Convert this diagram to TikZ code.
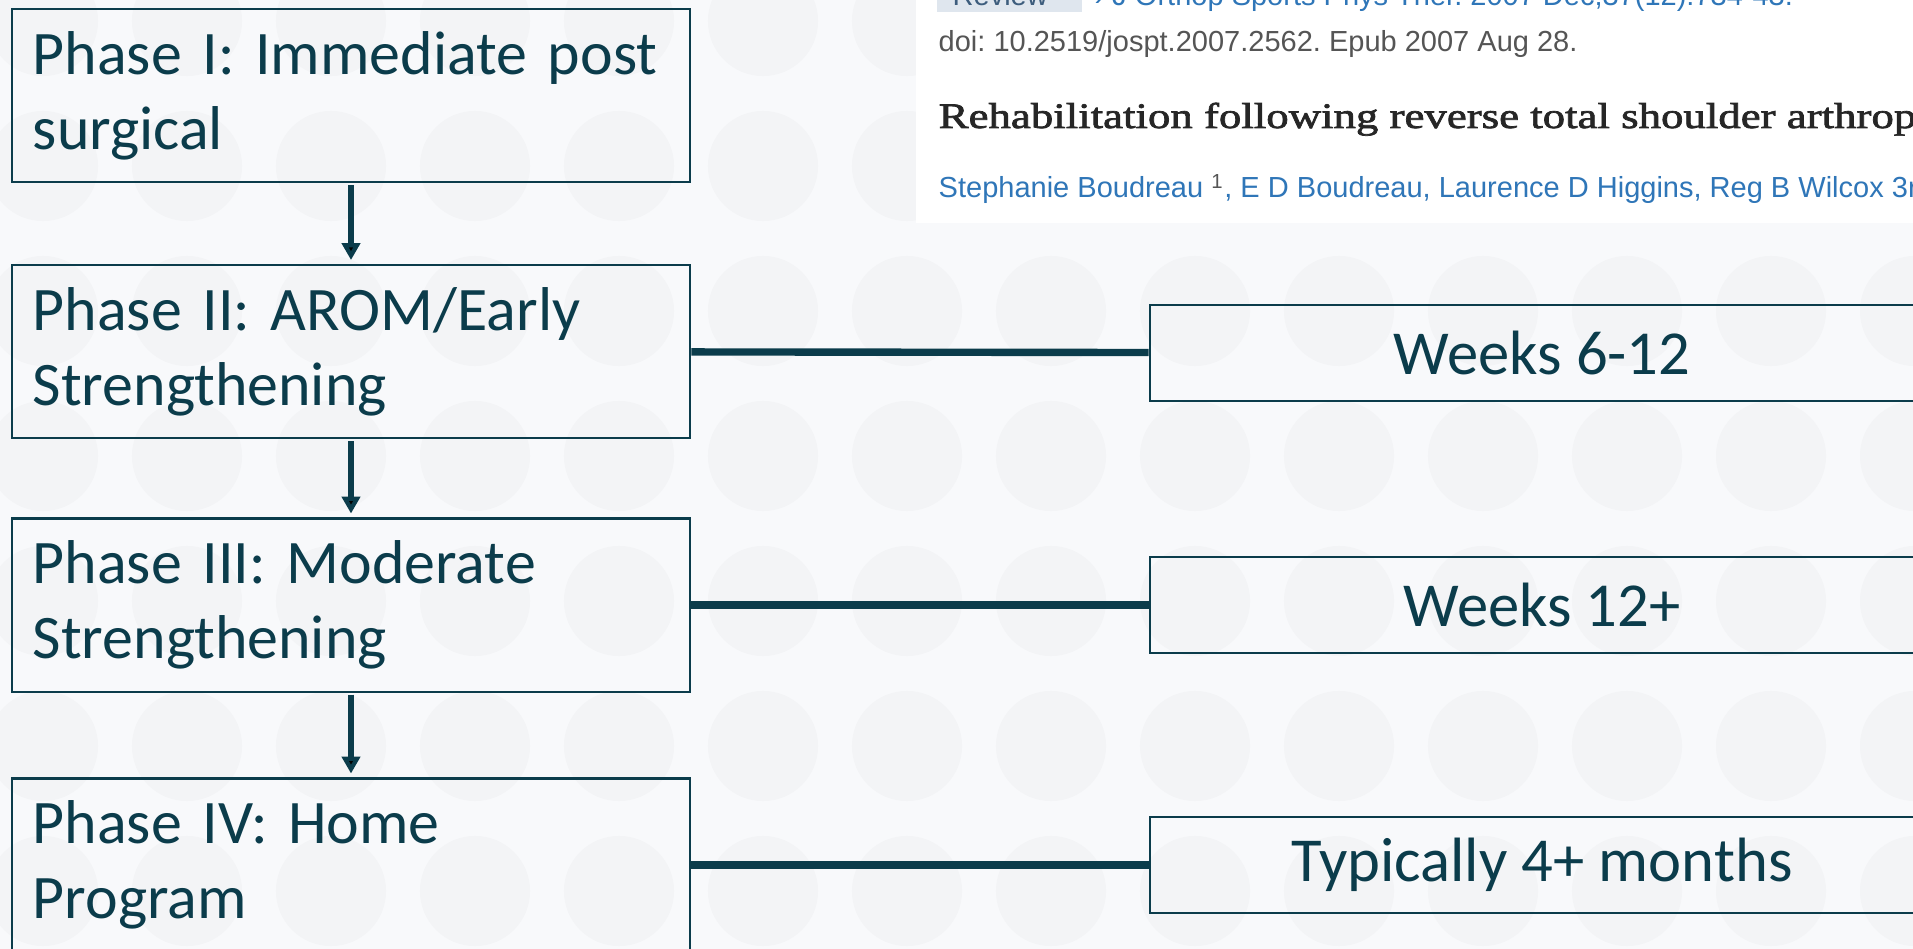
\documentclass[tikz,border=0pt]{standalone}
\usepackage{fontspec}
\setmainfont{Carlito}
\newfontfamily\citefont{Liberation Sans}
\newfontfamily\titlefont[FakeStretch=1.25,FakeBold=2]{Liberation Serif}
\usepackage{xcolor}
\usepackage{tikz}
\usetikzlibrary{
	arrows.meta
}
\frenchspacing

\definecolor{phaseteal}{HTML}{0B3C4B}
\definecolor{pagebg}{HTML}{F8F9FB}
\definecolor{dotgray}{HTML}{F3F4F6}
\definecolor{linkblue}{HTML}{2F76B8}
\definecolor{doigray}{HTML}{555555}
\definecolor{tagfill}{HTML}{DFE6EE}
\definecolor{tagtext}{HTML}{3D5D7D}

\tikzset{
	phasebox/.style={draw=phaseteal, line width=0.6pt, text=phaseteal,
		minimum height=1.73cm, inner xsep=0.21cm, text width=6.36cm, align=left,
		font=\fontsize{17.6}{21.3}\selectfont},
	timebox/.style={draw=phaseteal, line width=0.6pt, text=phaseteal,
		minimum width=7.84cm, minimum height=0.96cm,
		font=\fontsize{17.8}{21.3}\selectfont},
	citetext/.style={inner sep=0pt, anchor=base west,
		font=\citefont\fontsize{8.25}{10}\selectfont}
}

\begin{document}
\begin{tikzpicture}[x=0.01cm, y=-0.01cm]
		\useasboundingbox (0,0) rectangle (1913,949);
		\clip (0,0) rectangle (1913,949);
		% background
		\fill[pagebg] (0,0) rectangle (1913,949);
		\foreach \i in {0,...,13}
			\foreach \j in {0,...,6}
				\fill[dotgray] (43+144*\i, 21+145*\j) circle[radius=0.55cm];
		% citation
		\fill[white] (916,0) rectangle (1913,223);
		\fill[tagfill] (937,-10) rectangle (1082,12);
		\node[citetext, text=tagtext] (tag) at (952,6) {Review};
		\node[citetext, text=linkblue] (journal) at (1094,6) {› J Orthop Sports Phys Ther. 2007 Dec;37(12):734-43.};
		\node[citetext, text=doigray] (doi) at (938,52) {doi: 10.2519/jospt.2007.2562. Epub 2007 Aug 28.};
		\node[inner sep=0pt, anchor=base west, text=black!85,
			font=\titlefont\fontsize{10.2}{12}\selectfont] (title) at (938,128) {Rehabilitation following reverse total shoulder arthroplasty};
		\node[citetext, text=linkblue] (authors) at (938,198) {Stephanie Boudreau \textsuperscript{\color{doigray}1}, E D Boudreau, Laurence D Higgins, Reg B Wilcox 3rd};
		%
		\node[phasebox] (P1) at (351,95.5) {Phase I: Immediate post\\surgical};
		\node[phasebox] (P2) at (351,351.5) {Phase II: AROM/Early\\Strengthening};
		\node[phasebox] (P3) at (351,605) {Phase III: Moderate\\Strengthening};
		\node[phasebox] (P4) at (351,865) {Phase IV: Home\\Program};
		\node[timebox] (W2) at (1542,353) {Weeks 6-12};
		\node[timebox] (W3) at (1542,605) {Weeks 12+};
		\node[timebox] (W4) at (1542,865) {Typically 4+ months};
		%
		\path[draw=phaseteal, line width=1.7pt, -{Triangle[width=5.1pt,length=4.8pt]}]
		% vertical arrows
		(P1) edge[shorten <=0.6pt, shorten >=1.1pt] (P2)
		(P2) edge[shorten <=0.6pt, shorten >=1.1pt] (P3)
		(P3) edge[shorten <=0.6pt, shorten >=1.1pt] (P4)
		% horizontal lines
		(P2) edge[-, line width=2.1pt] (W2)
		(P3) edge[-, line width=2.1pt] (W3)
		(P4) edge[-, line width=2.1pt] (W4);
\end{tikzpicture}
\end{document}
